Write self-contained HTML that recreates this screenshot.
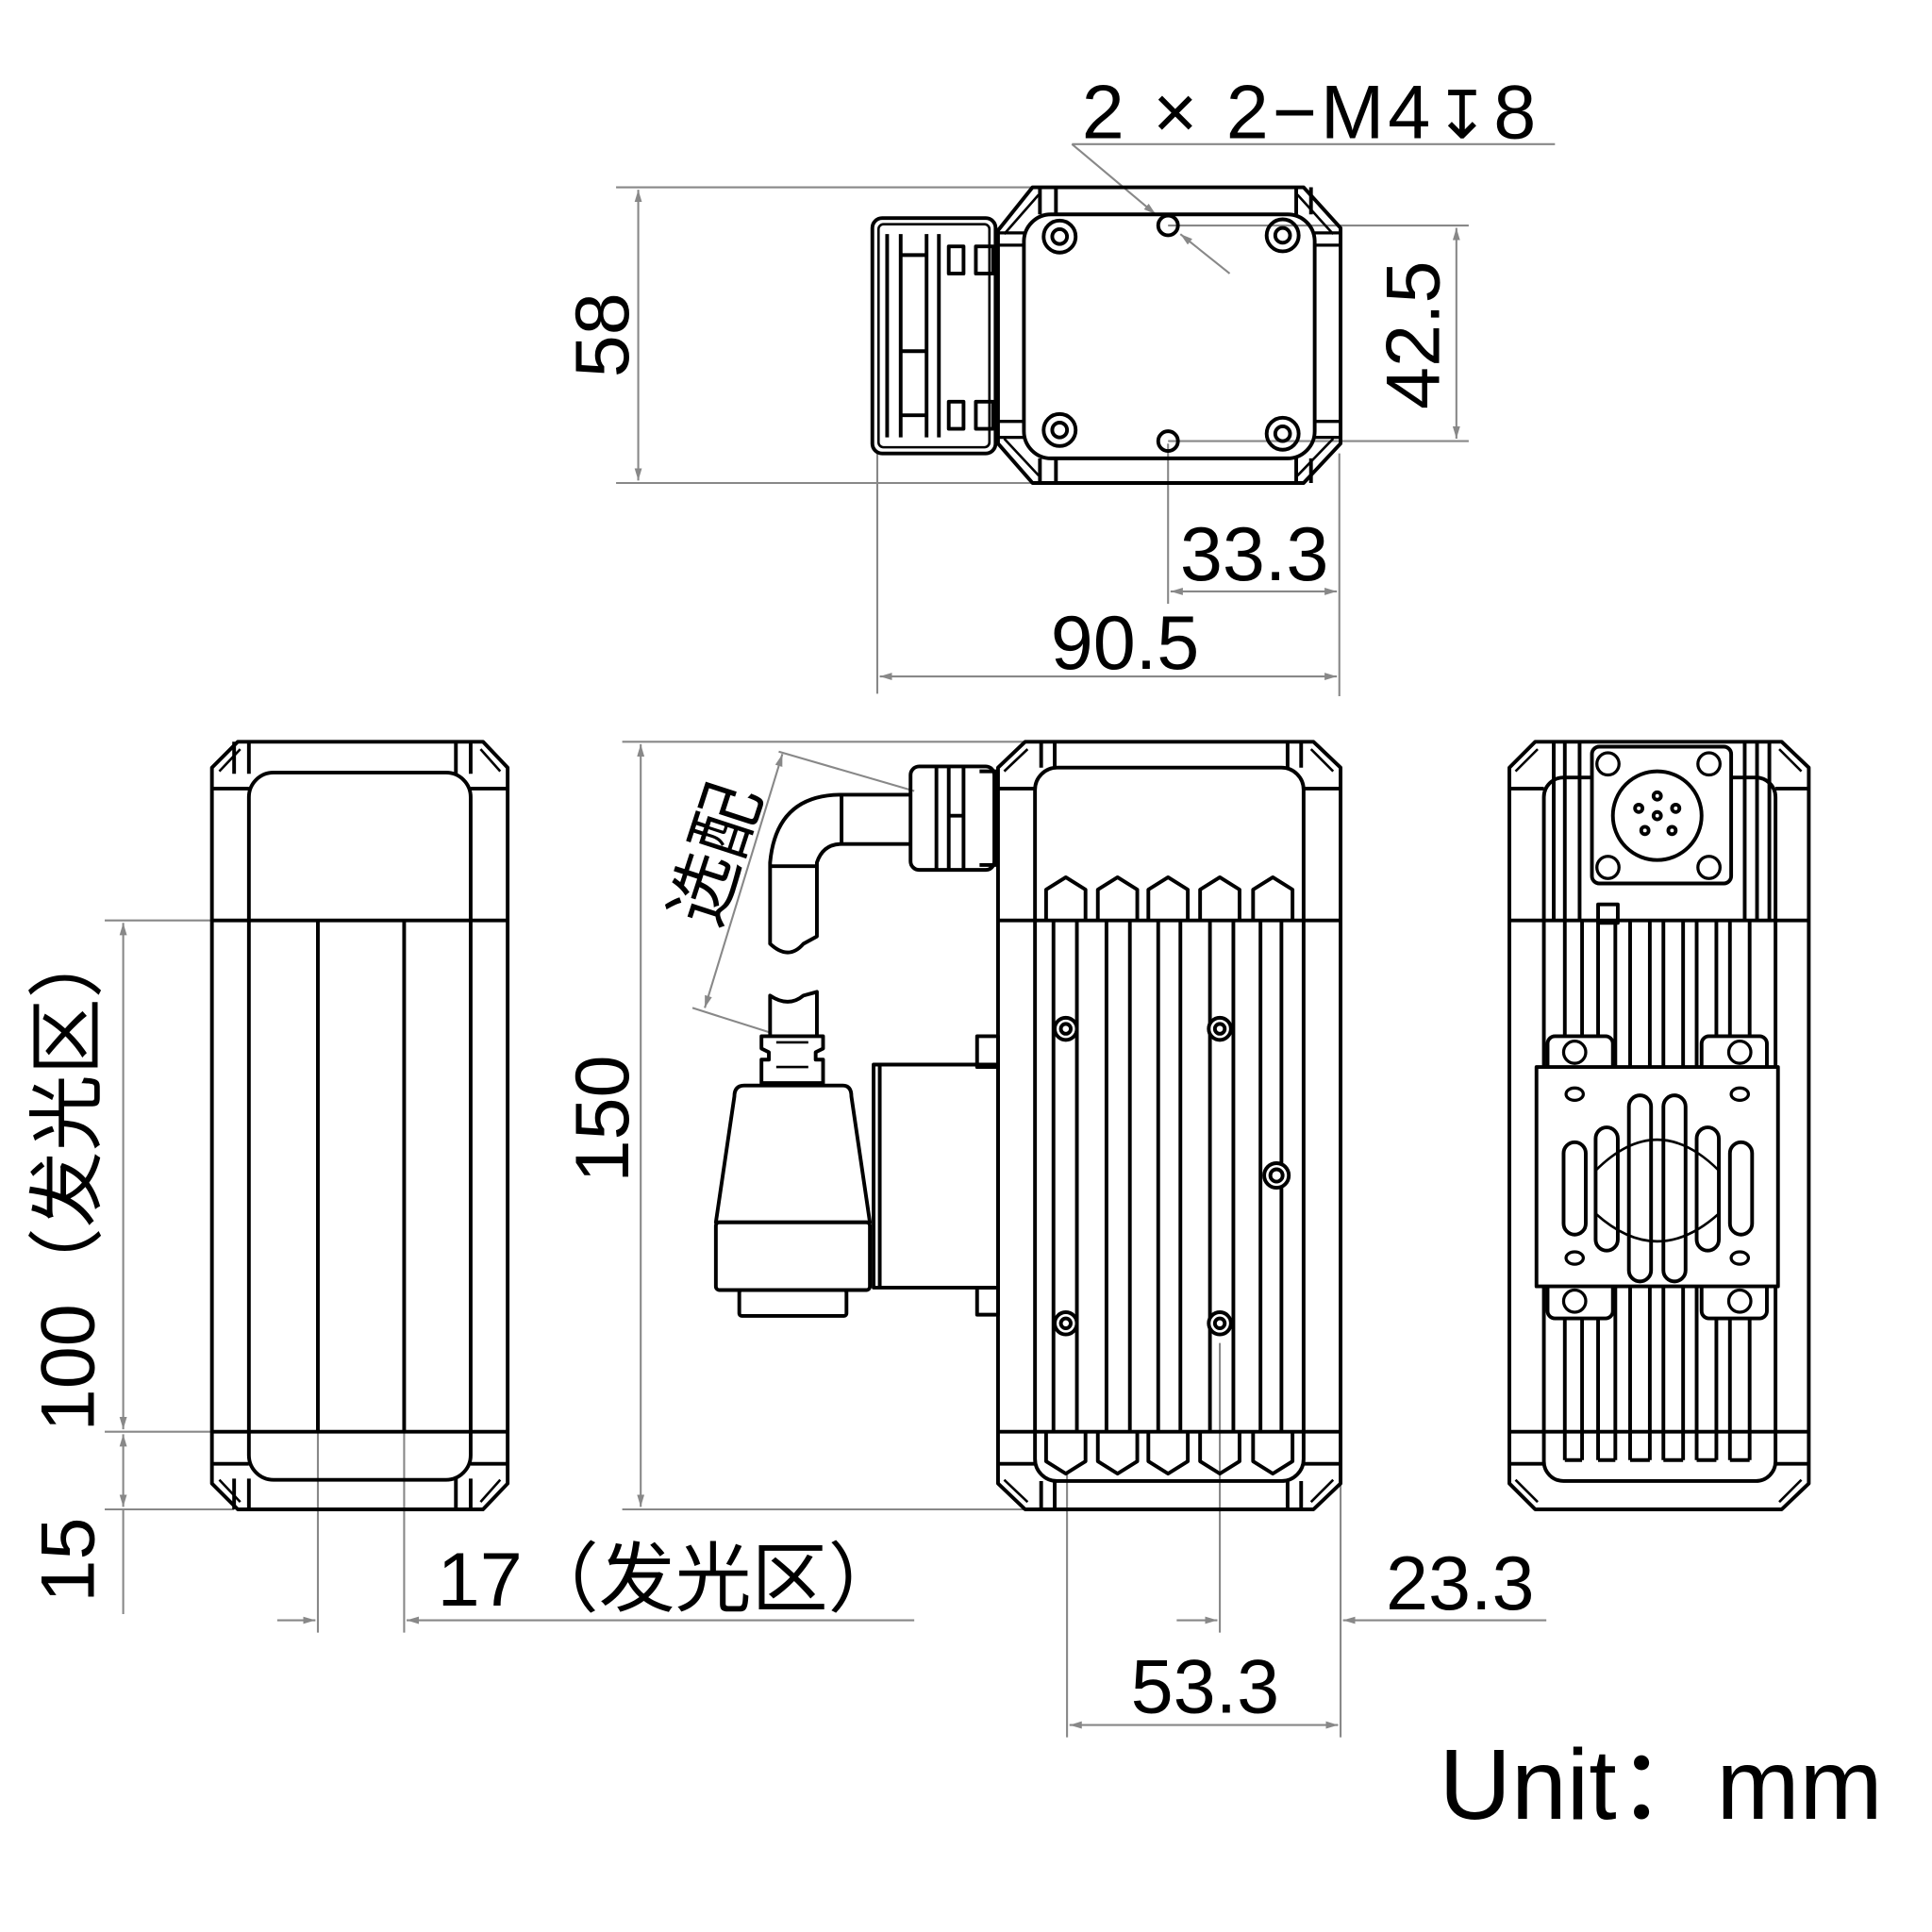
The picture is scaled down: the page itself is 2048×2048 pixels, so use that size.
<!DOCTYPE html>
<html><head><meta charset="utf-8"><style>html,body{margin:0;padding:0;background:#fff}svg{display:block}</style></head><body>
<svg width="2048" height="2048" viewBox="0 0 1568 1568" xmlns="http://www.w3.org/2000/svg" font-family="'Liberation Sans','Noto Sans CJK SC',sans-serif">
<defs>
<marker id="a" viewBox="0 0 10 6" refX="10" refY="3" markerWidth="10" markerHeight="6" orient="auto-start-reverse" markerUnits="userSpaceOnUse"><path d="M0 0L10 3L0 6z" fill="#888"/></marker>
</defs>
<rect width="1568" height="1568" fill="#fff"/>
<g stroke="#888" stroke-width="1.6" fill="none">
<line x1="870" y1="117" x2="1262" y2="117"/>
<line x1="870" y1="117" x2="938" y2="174" marker-end="url(#a)"/>
<line x1="998" y1="222" x2="958" y2="190" marker-end="url(#a)"/>
<line x1="500" y1="152" x2="838" y2="152"/>
<line x1="500" y1="392" x2="838" y2="392"/>
<line x1="518" y1="154" x2="518" y2="390" marker-start="url(#a)" marker-end="url(#a)"/>
<line x1="948" y1="183" x2="1192" y2="183"/>
<line x1="948" y1="358" x2="1192" y2="358"/>
<line x1="1182" y1="185" x2="1182" y2="356" marker-start="url(#a)" marker-end="url(#a)"/>
<line x1="948" y1="360" x2="948" y2="490"/>
<line x1="1087" y1="368" x2="1087" y2="565"/>
<line x1="950" y1="480" x2="1085" y2="480" marker-start="url(#a)" marker-end="url(#a)"/>
<line x1="712" y1="368" x2="712" y2="563"/>
<line x1="714" y1="549" x2="1085" y2="549" marker-start="url(#a)" marker-end="url(#a)"/>
<line x1="85" y1="747" x2="202" y2="747"/>
<line x1="85" y1="1162" x2="202" y2="1162"/>
<line x1="85" y1="1225" x2="190" y2="1225"/>
<line x1="100" y1="749" x2="100" y2="1160" marker-start="url(#a)" marker-end="url(#a)"/>
<line x1="100" y1="1164" x2="100" y2="1223" marker-start="url(#a)" marker-end="url(#a)"/>
<line x1="100" y1="1225" x2="100" y2="1310"/>
<line x1="258" y1="1162" x2="258" y2="1325"/>
<line x1="328" y1="1162" x2="328" y2="1325"/>
<line x1="225" y1="1315" x2="256" y2="1315" marker-end="url(#a)"/>
<line x1="742" y1="1315" x2="330" y2="1315" marker-end="url(#a)"/>
<line x1="505" y1="602" x2="860" y2="602"/>
<line x1="505" y1="1225" x2="860" y2="1225"/>
<line x1="520" y1="604" x2="520" y2="1223" marker-start="url(#a)" marker-end="url(#a)"/>
<line x1="866" y1="1196" x2="866" y2="1410"/>
<line x1="990" y1="1090" x2="990" y2="1325"/>
<line x1="1088" y1="1162" x2="1088" y2="1410"/>
<line x1="955" y1="1315" x2="988" y2="1315" marker-end="url(#a)"/>
<line x1="1255" y1="1315" x2="1090" y2="1315" marker-end="url(#a)"/>
<line x1="868" y1="1400" x2="1086" y2="1400" marker-start="url(#a)" marker-end="url(#a)"/>
<line x1="635" y1="612" x2="572" y2="818" marker-start="url(#a)" marker-end="url(#a)"/>
<line x1="632" y1="610" x2="742" y2="642"/>
<line x1="562" y1="818" x2="625" y2="838"/>
</g>
<g fill="#000" font-size="62">
<text x="878" y="112" letter-spacing="3">2 × 2−M4<tspan font-family="'DejaVu Sans',sans-serif" font-size="54">↧</tspan>8</text>
<text x="1018" y="471" text-anchor="middle">33.3</text>
<text x="913" y="543" text-anchor="middle">90.5</text>
<text transform="translate(510,272) rotate(-90)" text-anchor="middle">58</text>
<text transform="translate(1168,272) rotate(-90)" text-anchor="middle">42.5</text>
<text transform="translate(510,908) rotate(-90)" text-anchor="middle">150</text>
<text transform="translate(76,955) rotate(-90)" text-anchor="middle">100（发光区）</text>
<text transform="translate(76,1266) rotate(-90)" text-anchor="middle">15</text>
<text x="355" y="1303">17（发光区）</text>
<text x="1185" y="1306" text-anchor="middle">23.3</text>
<text x="978" y="1390" text-anchor="middle">53.3</text>
<text transform="translate(600,700) rotate(-72)" text-anchor="middle" font-size="58">选配</text>
<text x="1168" y="1476" font-size="81">Unit：mm</text>
</g>
<g stroke="#000" stroke-width="3" fill="none" stroke-linejoin="round">
<path d="M838 152 L1058 152 L1088 185 L1088 360 L1058 392 L838 392 L810 360 L810 187 Z"/>
<path d="M843 158 L815 190 M1053 158 L1082 190 M843 386 L815 356 M1053 386 L1082 356" stroke-width="2"/>
<path d="M844 152 V174 M857 152 V174 M1052 152 V174 M1064 152 V174 M844 372 V392 M857 372 V392 M1052 372 V392 M1064 372 V392"/>
<rect x="831" y="174" width="236" height="198" rx="22"/>
<path d="M810 189 H831 M810 199 H831 M810 342 H831 M810 355 H831 M1067 189 H1088 M1067 199 H1088 M1067 342 H1088 M1067 355 H1088" stroke-width="2.5"/>
<circle cx="860" cy="192" r="13"/><circle cx="860" cy="192" r="6"/>
<circle cx="1041" cy="191" r="13"/><circle cx="1041" cy="191" r="6"/>
<circle cx="860" cy="349" r="13"/><circle cx="860" cy="349" r="6"/>
<circle cx="1041" cy="352" r="13"/><circle cx="1041" cy="352" r="6"/>
<circle cx="948" cy="183" r="8"/><circle cx="948" cy="358" r="8"/>
<rect x="708" y="177" width="100" height="191" rx="8"/>
<rect x="713" y="182" width="90" height="181" rx="4" stroke-width="2"/>
<path d="M720 190 V355 M731 190 V355 M752 190 V355 M762 190 V355 M731 207 H752 M731 285 H752 M731 337 H752"/>
<rect x="770" y="200" width="12" height="22"/><rect x="792" y="200" width="14" height="22"/>
<rect x="770" y="326" width="12" height="22"/><rect x="792" y="326" width="14" height="22"/>
</g>
<g stroke="#000" stroke-width="3" fill="none" stroke-linejoin="round">
<path d="M193 602 L392 602 L412 623 L412 1204 L392 1225 L193 1225 L172 1204 L172 623 Z"/>
<path d="M195 608 L178 626 M390 608 L406 626 M195 1219 L178 1201 M390 1219 L406 1201" stroke-width="2"/>
<path d="M172 640 H202 M382 640 H412 M172 1188 H202 M382 1188 H412"/>
<path d="M190 602 V628 M202 602 V628 M370 602 V628 M382 602 V628 M190 1200 V1225 M202 1200 V1225 M370 1200 V1225 M382 1200 V1225"/>
<rect x="202" y="627" width="180" height="574" rx="20"/>
<path d="M172 747 H412 M172 1162 H412 M258 747 V1162 M328 747 V1162"/>
</g>
<g stroke="#000" stroke-width="3" fill="none" stroke-linejoin="round">
<path d="M832 602 L1066 602 L1088 623 L1088 1204 L1066 1225 L832 1225 L810 1204 L810 623 Z"/>
<path d="M834 608 L815 626 M1064 608 L1082 626 M834 1219 L815 1201 M1064 1219 L1082 1201" stroke-width="2"/>
<path d="M845 602 V623 M856 602 V623 M1045 602 V623 M1056 602 V623 M845 1202 V1225 M856 1202 V1225 M1045 1202 V1225 M1056 1202 V1225"/>
<path d="M810 640 H840 M1058 640 H1088 M810 1188 H840 M1058 1188 H1088"/>
<rect x="840" y="623" width="218" height="579" rx="18"/>
<path d="M810 747 H1088 M810 1162 H1088"/>
<path d="M855 747 V1162 M874 747 V1162 M898 747 V1162 M917 747 V1162 M940 747 V1162 M958 747 V1162 M982 747 V1162 M1001 747 V1162 M1023 747 V1162 M1040 747 V1162"/>
<path d="M849 747 V722 L865 712 L881 722 V747 M891 747 V722 L907 712 L923 722 V747 M932 747 V722 L948 712 L964 722 V747 M974 747 V722 L990 712 L1006 722 V747 M1017 747 V722 L1033 712 L1049 722 V747"/>
<path d="M849 1162 V1186 L865 1196 L881 1186 V1162 M891 1162 V1186 L907 1196 L923 1186 V1162 M932 1162 V1186 L948 1196 L964 1186 V1162 M974 1162 V1186 L990 1196 L1006 1186 V1162 M1017 1162 V1186 L1033 1196 L1049 1186 V1162"/>
<g fill="#fff">
<circle cx="865" cy="835" r="9"/><circle cx="990" cy="835" r="9"/><circle cx="865" cy="1074" r="9"/><circle cx="990" cy="1074" r="9"/><circle cx="1036" cy="954" r="10"/>
</g>
<circle cx="865" cy="835" r="4"/><circle cx="990" cy="835" r="4"/><circle cx="865" cy="1074" r="4"/><circle cx="990" cy="1074" r="4"/><circle cx="1036" cy="954" r="5"/>
<rect x="739" y="622" width="68" height="84" rx="7"/>
<path d="M760 622 V706 M770 622 V706 M782 622 V706 M770 662 H782 M795 626 H808 V702 H795"/>
<path d="M739 645 H683 Q630 645 625 700 V766 Q640 780 652 766 L663 760 V700 Q668 685 683 685 H739"/>
<path d="M683 645 V685 M625 703 H663"/>
<path d="M625 841 V808 Q640 818 652 808 L663 805 V841"/>
<path d="M618 841 H668 V851 L662 854 V860 H668 V879 H618 V860 H624 V854 L618 851 Z"/>
<path d="M630 846 H656 M630 866 H656" stroke-width="2"/>
<path d="M604 881 H684 Q691 881 691 890 L706 992 H581 L596 890 Q596 881 604 881 Z"/>
<rect x="581" y="992" width="125" height="55" rx="3"/>
<rect x="600" y="1047" width="87" height="21" rx="2"/>
<rect x="709" y="864" width="101" height="181"/>
<path d="M714 864 V1045"/>
<rect x="793" y="841" width="17" height="25"/><rect x="793" y="1045" width="17" height="22"/>
</g>
<g stroke="#000" stroke-width="3" fill="none" stroke-linejoin="round">
<path d="M1246 602 L1446 602 L1468 623 L1468 1204 L1446 1225 L1246 1225 L1225 1204 L1225 623 Z"/>
<path d="M1248 608 L1230 626 M1444 608 L1462 626 M1248 1219 L1230 1201 M1444 1219 L1462 1201" stroke-width="2"/>
<path d="M1225 640 H1253 M1441 640 H1468 M1225 1188 H1253 M1441 1188 H1468"/>
<rect x="1253" y="631" width="188" height="571" rx="16"/>
<path d="M1225 747 H1468 M1225 1162 H1468"/>
<path d="M1261 602 V747 M1270 602 V747 M1282 602 V747 M1416 602 V747 M1426 602 V747 M1436 602 V747"/>
<rect x="1292" y="606" width="113" height="111" rx="6" fill="#fff"/>
<circle cx="1345" cy="662" r="36"/>
<circle cx="1345" cy="646" r="3"/><circle cx="1330" cy="656" r="3"/><circle cx="1360" cy="656" r="3"/><circle cx="1345" cy="662" r="3"/><circle cx="1335" cy="674" r="3"/><circle cx="1357" cy="674" r="3"/>
<g stroke-width="2.5"><circle cx="1305" cy="620" r="9"/><circle cx="1387" cy="620" r="9"/><circle cx="1305" cy="704" r="9"/><circle cx="1387" cy="704" r="9"/></g>
<rect x="1297" y="734" width="16" height="15"/>
<path d="M1270 747 V1185 M1284 747 V1185 M1297 747 V1185 M1311 747 V1185 M1323 747 V1185 M1339 747 V1185 M1350 747 V1185 M1366 747 V1185 M1377 747 V1185 M1393 747 V1185 M1404 747 V1185 M1420 747 V1185"/>
<path d="M1270 1185 H1284 M1297 1185 H1311 M1323 1185 H1339 M1350 1185 H1366 M1377 1185 H1393 M1404 1185 H1420"/>
<rect x="1256" y="841" width="53" height="229" rx="6" fill="#fff"/>
<rect x="1381" y="841" width="53" height="229" rx="6" fill="#fff"/>
<rect x="1247" y="866" width="196" height="178" fill="#fff"/>
<g stroke-width="2.5">
<circle cx="1278" cy="854" r="9"/><circle cx="1412" cy="854" r="9"/><circle cx="1278" cy="1056" r="9"/><circle cx="1412" cy="1056" r="9"/>
<ellipse cx="1278" cy="888" rx="7" ry="5"/><ellipse cx="1412" cy="888" rx="7" ry="5"/><ellipse cx="1278" cy="1021" rx="7" ry="5"/><ellipse cx="1412" cy="1021" rx="7" ry="5"/>
</g>
<rect x="1269" y="927" width="18" height="75" rx="9"/>
<rect x="1295" y="915" width="18" height="100" rx="9"/>
<rect x="1322" y="889" width="18" height="151" rx="9"/>
<rect x="1350" y="889" width="18" height="151" rx="9"/>
<rect x="1377" y="915" width="18" height="100" rx="9"/>
<rect x="1404" y="927" width="18" height="75" rx="9"/>
<path d="M1295 950 Q1345 900 1395 950 M1295 985 Q1345 1030 1395 985" stroke-width="2"/>
</g>
</svg>
</body></html>
